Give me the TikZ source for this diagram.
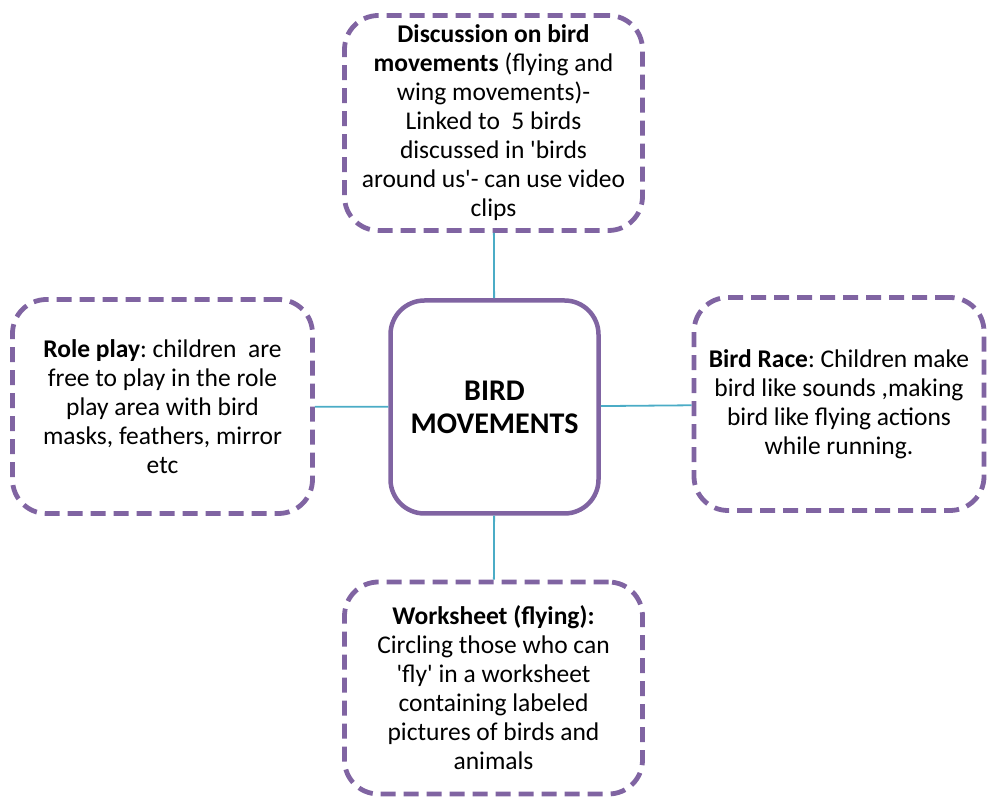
\documentclass[tikz,border=0pt]{standalone}
\usepackage{fontspec}
\setmainfont{Carlito}
\usetikzlibrary{positioning}
\frenchspacing

\definecolor{mappurple}{HTML}{8064A2}
\definecolor{maplink}{HTML}{4BACC6}

\begin{document}
\begin{tikzpicture}[x=1pt, y=1pt,
  hub/.style={draw=mappurple, line width=4.5pt, rounded corners=34pt,
    minimum width=208pt, minimum height=213pt, align=center,
    font=\fontsize{30}{33}\selectfont\bfseries},
  idea/.style={draw=mappurple, line width=4.8pt, rounded corners=34pt,
    dash pattern=on 15pt off 8pt, align=center,
    font=\fontsize{25.5}{29}\selectfont},
  link/.style={draw=maplink, line width=1.8pt}]

\useasboundingbox (0,0) rectangle (988,800);

\node [hub] (hub) at (494.5,393) {BIRD\\MOVEMENTS};

\node [idea, minimum width=298pt, minimum height=215pt] (disc) at (493.5,677)
  {\textbf{Discussion on bird}\\\textbf{movements} (flying and\\wing movements)-\\
   Linked to\ \ 5 birds\\discussed in \textquotesingle birds\\around us\textquotesingle- can use video\\clips};

\node [idea, minimum width=300pt, minimum height=214pt] (role) at (162.5,393.5)
  {\textbf{Role play}: children\ \ are\\free to play in the role\\play area with bird\\
   masks, feathers,\ mirror\\etc};

\node [idea, minimum width=290pt, minimum height=213pt] (race) at (839,396)
  {\textbf{Bird Race}: Children make\\bird like sounds ,making\\bird like flying actions\\
   while running.};

\node [idea, minimum width=298pt, minimum height=212pt] (sheet) at (493.5,112)
  {\textbf{Worksheet (flying):}\\Circling those who can\\\textquotesingle fly\textquotesingle\ in a worksheet\\
   containing labeled\\pictures of birds and\\animals};

\foreach \n in {disc, role, race, sheet}
  \draw [link] (hub) -- (\n);

\end{tikzpicture}
\end{document}
